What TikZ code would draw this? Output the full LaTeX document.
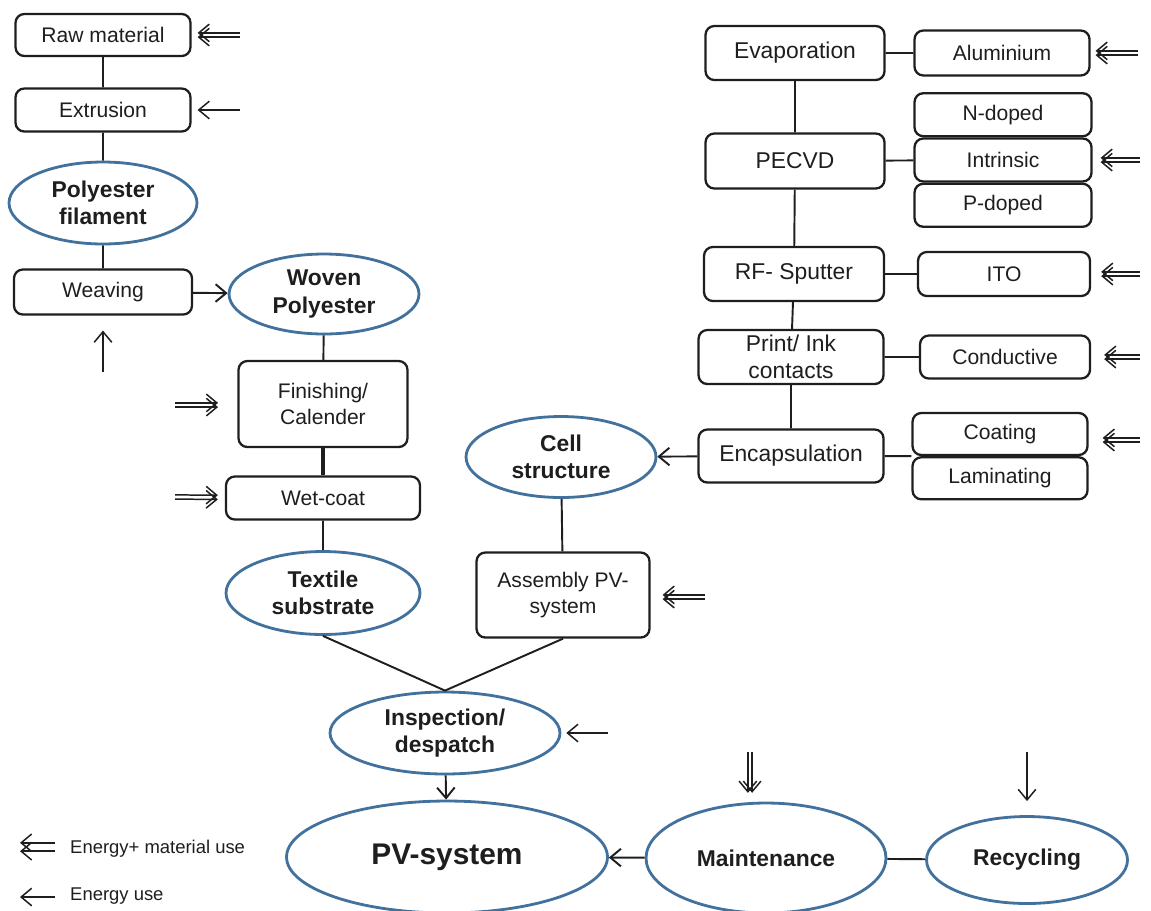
\documentclass[tikz,border=0pt]{standalone}
\usepackage{fontspec}
\setmainfont{Liberation Sans}
\usetikzlibrary{arrows.meta,positioning,shapes.geometric}
\definecolor{ink}{HTML}{1E1E1E}
\definecolor{ovalblue}{HTML}{41719C}
% energy + material input: two parallel arrows
\newcommand\twoarrows[4][yshift]{%
  \draw[energy,shorten >=#4,transform canvas={#1=1.2pt}] (#2)--(#3);
  \draw[energy,shorten >=#4,transform canvas={#1=-1.2pt}] (#2)--(#3);}

\begin{document}
\begin{tikzpicture}[x=0.02cm,y=-0.02cm,
  proc/.style={draw=ink,text=ink,line width=1.3pt,rounded corners=5pt,align=center,inner sep=0pt,font=\fontsize{12}{14.5}\selectfont},
  big/.style={proc,font=\fontsize{13}{15.5}\selectfont},
  prod/.style={ellipse,draw=ovalblue,text=ink,line width=1.6pt,align=center,inner sep=0pt,font=\bfseries\fontsize{13}{15.5}\selectfont},
  link/.style={draw=ink,line width=1.1pt},
  flow/.style={link,-{Straight Barb[length=6pt,width=10pt]}},
  energy/.style={draw=ink,line width=0.85pt,-{Straight Barb[length=6pt,width=10pt]}}]
\useasboundingbox (0,0) rectangle (1151,910);

% textile branch
\node[proc,minimum width=3.5cm,minimum height=0.84cm] (raw) at (103,35) {Raw material};
\node[proc,minimum width=3.5cm,minimum height=0.86cm] (extr) at (103,110) {Extrusion};
\node[prod,minimum width=3.76cm,minimum height=1.64cm] (fil) at (103,203) {Polyester\\filament};
\node[proc,minimum width=3.56cm,minimum height=0.9cm] (weave) at (103,292) {Weaving};
\node[prod,minimum width=3.8cm,minimum height=1.6cm] (woven) at (324,294) {Woven\\Polyester};
\node[proc,minimum width=3.38cm,minimum height=1.72cm] (finish) at (323,404) {Finishing/\\Calender};
\node[proc,minimum width=3.88cm,minimum height=0.86cm] (wet) at (323,498) {Wet-coat};
\node[prod,minimum width=3.88cm,minimum height=1.66cm] (textile) at (323,593) {Textile\\substrate};

% cell branch
\node[big,minimum width=3.58cm,minimum height=1.08cm] (evap) at (795,53) {Evaporation};
\node[proc,minimum width=3.5cm,minimum height=0.9cm] (alu) at (1002,53) {Aluminium};
\node[big,minimum width=3.58cm,minimum height=1.1cm] (pecvd) at (795,161) {PECVD};
\node[proc,minimum width=3.54cm,minimum height=0.86cm] (intr) at (1003,160) {Intrinsic};
\node[proc,minimum width=3.54cm,minimum height=0.86cm,above=0pt of intr] (ndop) {N-doped};
\node[proc,minimum width=3.54cm,minimum height=0.86cm,below=0pt of intr] (pdop) {P-doped};
\node[big,minimum width=3.6cm,minimum height=1.08cm] (rf) at (794,274) {RF- Sputter};
\node[proc,minimum width=3.44cm,minimum height=0.88cm] (ito) at (1004,274) {ITO};
\node[big,minimum width=3.7cm,minimum height=1.08cm] (print) at (791,357) {Print/ Ink\\contacts};
\node[proc,minimum width=3.4cm,minimum height=0.86cm] (cond) at (1005,357) {Conductive};
\node[big,minimum width=3.7cm,minimum height=1.06cm] (encap) at (791,456) {Encapsulation};
\node[proc,minimum width=3.5cm,minimum height=0.84cm] (coat) at (1000,434) {Coating};
\node[proc,minimum width=3.5cm,minimum height=0.84cm,below=0pt of coat] (lam) {Laminating};
\node[prod,minimum width=3.8cm,minimum height=1.62cm] (cell) at (561,457) {Cell\\structure};
\node[proc,minimum width=3.46cm,minimum height=1.7cm] (asm) at (563,595) {Assembly PV-\\system};

% system and end of life
\node[prod,minimum width=4.6cm,minimum height=1.64cm] (insp) at (445,733) {Inspection/\\despatch};
\node[prod,minimum width=6.42cm,minimum height=2.24cm,font=\bfseries\fontsize{17}{20}\selectfont] (pv) at (447,857) {PV-system};
\node[prod,minimum width=4.8cm,minimum height=2.2cm] (maint) at (766,858) {Maintenance};
\node[prod,minimum width=4.02cm,minimum height=1.74cm] (recyc) at (1027,860) {Recycling};

\draw[link] (raw)--(extr) (extr)--(fil) (fil)--(weave) (woven)--(finish) (wet)--(textile) (cell)--(asm);
\draw[link,line width=1.8pt] (finish)--(wet);
\draw[link] (textile.south)--(insp.north)--(asm.south);
\draw[link] (evap)--(alu) (evap)--(pecvd) (pecvd)--(intr) (pecvd)--(rf) (rf)--(ito) (rf)--(print) (print)--(cond) (print)--(encap) (encap)--(coat.south west);
\draw[link] (maint)--(recyc);
\draw[flow] (weave)--(woven); \draw[flow] (encap)--(cell); \draw[flow] (insp)--(pv); \draw[flow] (maint)--(pv);

% inputs
\coordinate (eRaw) at (240,35); \coordinate (eExtr) at (240,110); \coordinate (eWeave) at (103,372);
\coordinate (eFinish) at (175,405); \coordinate (eWet) at (175,497); \coordinate (eAsm) at (705,597);
\coordinate (eInsp) at (608,733); \coordinate (eMaint) at (750,752); \coordinate (eRecyc) at (1027,752);
\coordinate (eAlu) at (1138,53); \coordinate (eIntr) at (1140,160); \coordinate (eIto) at (1140,274);
\coordinate (eCond) at (1140,357); \coordinate (eCoat) at (1140,440);
\twoarrows{eRaw}{raw}{3.4pt}
\draw[energy,shorten >=3.4pt] (eExtr)--(extr);
\draw[energy,shorten >=8.5pt] (eWeave)--(weave);
\twoarrows{eFinish}{eFinish -| finish.west}{11pt}
\twoarrows{eWet}{wet}{4pt}
\twoarrows{eAsm}{eAsm -| asm.east}{6.8pt}
\draw[energy,shorten >=2.8pt] (eInsp)--(insp);
\twoarrows[xshift]{eMaint}{eMaint |- maint.north}{5pt}
\draw[energy,shorten >=8pt] (eRecyc)--(recyc);
\twoarrows{eAlu}{alu}{2.8pt}
\twoarrows{eIntr}{intr}{4.5pt}
\twoarrows{eIto}{ito}{5.7pt}
\twoarrows{eCond}{cond}{7.4pt}
\twoarrows{eCoat}{eCoat -| coat.east}{8pt}

% key
\coordinate (k1) at (55,847); \coordinate (k1e) at (20,847);
\coordinate (k2) at (55,897); \coordinate (k2e) at (20,897);
\draw[energy,transform canvas={yshift=2.4pt}] (k1)--(k1e);
\draw[energy,transform canvas={yshift=-2.4pt}] (k1)--(k1e);
\draw[energy] (k2)--(k2e);
\node[anchor=west,text=ink,font=\fontsize{10.5}{12}\selectfont] (k1t) at (64,849) {Energy+ material use};
\node[anchor=west,text=ink,font=\fontsize{10.5}{12}\selectfont] (k2t) at (64,896) {Energy use};
\end{tikzpicture}
\end{document}
